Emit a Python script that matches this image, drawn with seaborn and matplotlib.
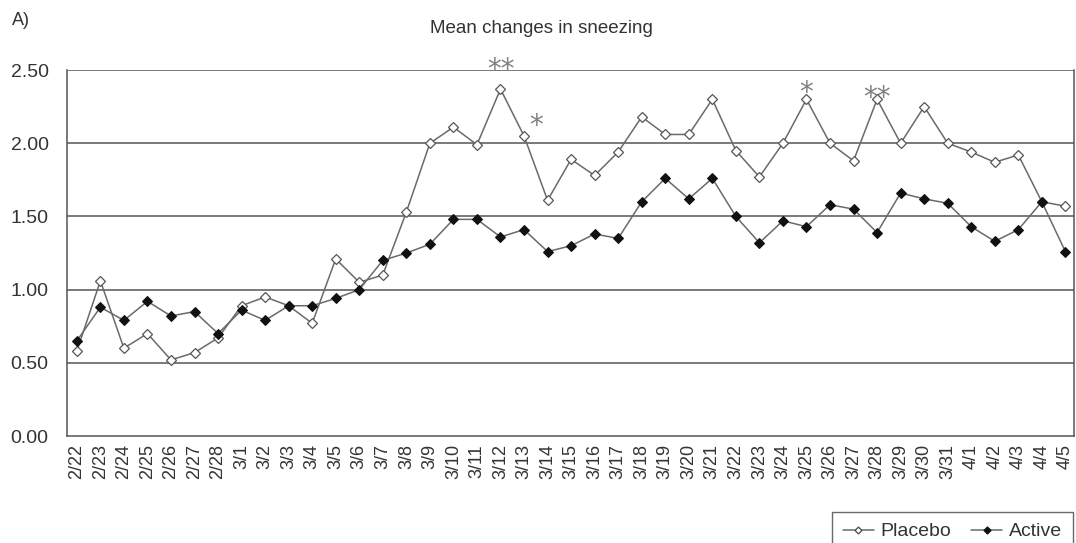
import numpy as np
import pandas as pd
import matplotlib
matplotlib.use("Agg")
import matplotlib.pyplot as plt
import seaborn as sns
from matplotlib.lines import Line2D

dates = ["2/22", "2/23", "2/24", "2/25", "2/26", "2/27", "2/28",
         "3/1", "3/2", "3/3", "3/4", "3/5", "3/6", "3/7", "3/8", "3/9", "3/10",
         "3/11", "3/12", "3/13", "3/14", "3/15", "3/16", "3/17", "3/18", "3/19",
         "3/20", "3/21", "3/22", "3/23", "3/24", "3/25", "3/26", "3/27", "3/28",
         "3/29", "3/30", "3/31", "4/1", "4/2", "4/3", "4/4", "4/5"]

placebo = [0.58, 1.06, 0.60, 0.70, 0.52, 0.57, 0.67,
           0.89, 0.95, 0.89, 0.77, 1.21, 1.05, 1.10, 1.53, 2.00, 2.11,
           1.99, 2.37, 2.05, 1.61, 1.89, 1.78, 1.94, 2.18, 2.06,
           2.06, 2.30, 1.95, 1.77, 2.00, 2.30, 2.00, 1.88, 2.30,
           2.00, 2.25, 2.00, 1.94, 1.87, 1.92, 1.60, 1.57]

active = [0.65, 0.88, 0.79, 0.92, 0.82, 0.85, 0.70,
          0.86, 0.79, 0.89, 0.89, 0.94, 1.00, 1.20, 1.25, 1.31, 1.48,
          1.48, 1.36, 1.41, 1.26, 1.30, 1.38, 1.35, 1.60, 1.76,
          1.62, 1.76, 1.50, 1.32, 1.47, 1.43, 1.58, 1.55, 1.39,
          1.66, 1.62, 1.59, 1.43, 1.33, 1.41, 1.60, 1.26]

# significance marks: (date, label, height)
sig_dates = ["3/12", "3/13", "3/25", "3/28"]
sig_labels = ["**", "*", "*", "**"]
sig_heights = [2.50, 2.12, 2.34, 2.31]

yticks = [0.0, 0.5, 1.0, 1.5, 2.0, 2.5]

df = pd.DataFrame({
    "pos": np.tile(np.arange(len(dates)), 2),
    "value": placebo + active,
    "group": ["Placebo"] * len(dates) + ["Active"] * len(dates),
})

sns.set_style("white")
plt.rcParams["font.family"] = ["Liberation Sans", "DejaVu Sans"]

fig = plt.figure(figsize=(10.76, 5.43), dpi=100)
ax = fig.add_axes([0.062, 0.197, 0.936, 0.674])

line_col = "#6a6a6a"
sns.lineplot(data=df[df.group == "Placebo"], x="pos", y="value", ax=ax,
             color=line_col, linewidth=1.1, marker="D", markersize=5,
             markerfacecolor="white", markeredgecolor="#555555",
             markeredgewidth=0.9, legend=False)
sns.lineplot(data=df[df.group == "Active"], x="pos", y="value", ax=ax,
             color=line_col, linewidth=1.1, marker="D", markersize=5,
             markerfacecolor="#111111", markeredgecolor="#111111",
             legend=False)

ax.set_xlim(-0.43, len(dates) - 1 + 0.36)
ax.set_ylim(0, 2.5)
ax.set_yticks(yticks)
ax.set_yticklabels([f"{v:.2f}" for v in yticks], fontsize=14, color="#333333")
ax.set_xticks(np.arange(len(dates)))
ax.set_xticklabels(dates, rotation=90, fontsize=13, color="#333333")
ax.set_xlabel("")
ax.set_ylabel("")

# category boundary ticks, pointing inward
ax.set_xticks(np.arange(len(dates) - 1) + 0.5, minor=True)
ax.tick_params(axis="x", which="major", length=0, pad=6)
ax.tick_params(axis="x", which="minor", direction="in", length=4,
               width=0.9, color="#555555")
ax.tick_params(axis="y", length=0, pad=13)

for y in yticks[1:]:
    ax.axhline(y, color="#555555", linewidth=1.1, zorder=0)

for s in ax.spines.values():
    s.set_color("#555555")
    s.set_linewidth(1.1)
    s.set_visible(True)
ax.spines["top"].set_visible(False)

for d, lab, h in zip(sig_dates, sig_labels, sig_heights):
    xi = dates.index(d)
    if lab == "*" and d == "3/13":
        xi += 0.5
    ax.text(xi, h, lab, ha="center", va="center", fontsize=20,
            color="#808080", clip_on=False, family="DejaVu Sans")

fig.text(0.011, 0.978, "A)", fontsize=13, color="#333333", va="top")
fig.text(0.503, 0.948, "Mean changes in sneezing", fontsize=13.5,
         color="#333333", ha="center", va="center")

handles = [
    Line2D([], [], color=line_col, linewidth=1.1, marker="D", markersize=3.5,
           markerfacecolor="white", markeredgecolor="#555555"),
    Line2D([], [], color=line_col, linewidth=1.1, marker="D", markersize=3.5,
           markerfacecolor="#111111", markeredgecolor="#111111"),
]
leg = fig.legend(handles, ["Placebo", "Active"], loc="upper right",
                 bbox_to_anchor=(1073 / 1076, 1 - 512 / 543), ncol=2,
                 fontsize=14, frameon=True, fancybox=False, handlelength=1.6,
                 columnspacing=1.0, handletextpad=0.36, borderpad=0.55,
                 borderaxespad=0)
leg.get_frame().set_edgecolor("#444444")
leg.get_frame().set_linewidth(1.0)
for t in leg.get_texts():
    t.set_color("#333333")

fig.savefig("out.png", dpi=100, facecolor="white")
